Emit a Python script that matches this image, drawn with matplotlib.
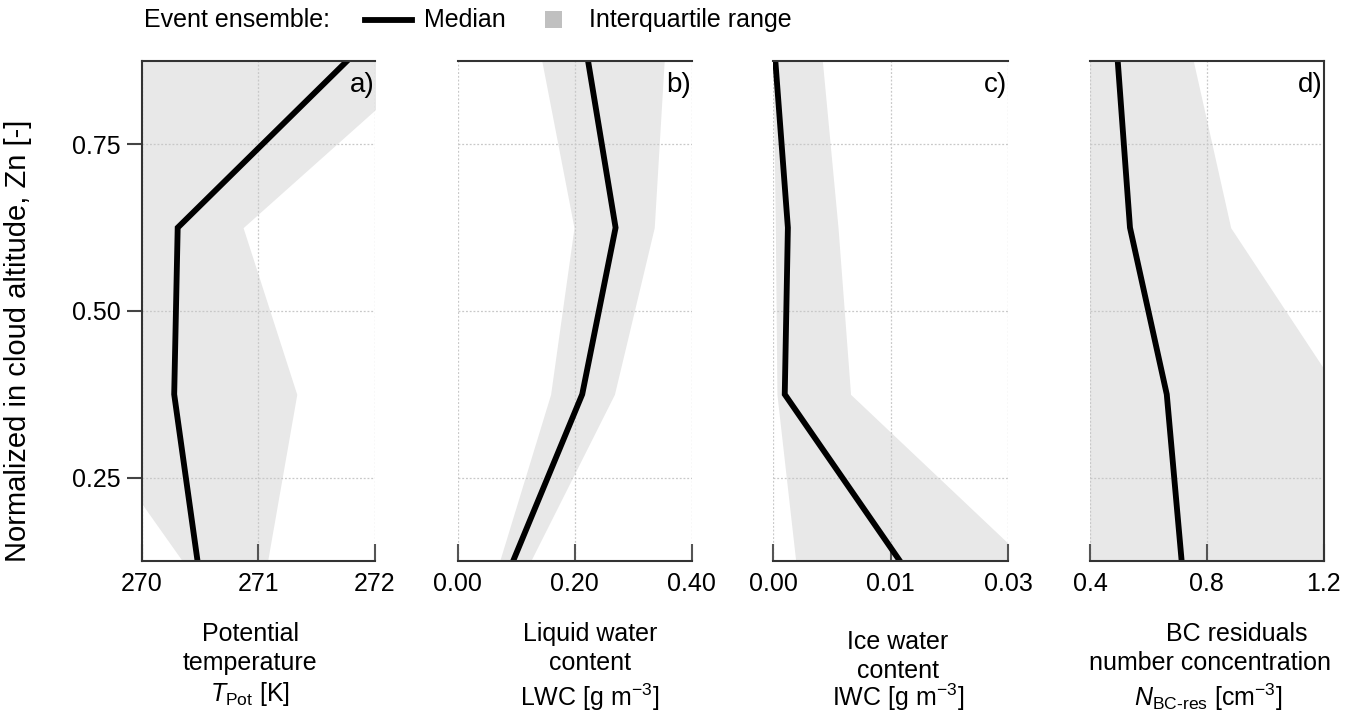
import matplotlib
matplotlib.use("Agg")
import matplotlib.pyplot as plt
from matplotlib.lines import Line2D
from matplotlib.patches import Rectangle

plt.rcParams['font.family'] = ['Liberation Sans', 'DejaVu Sans']
plt.rcParams['mathtext.fontset'] = 'custom'
plt.rcParams['mathtext.rm'] = 'Liberation Sans'
plt.rcParams['mathtext.it'] = 'Liberation Sans:italic'
plt.rcParams['mathtext.bf'] = 'Liberation Sans:bold'

# ---- data ----
zn = [0.125, 0.375, 0.625, 0.875]

tpot_median = [270.48, 270.28, 270.31, 271.76]
tpot_q25 = [270.35, 269.34, 269.50, 269.70]
tpot_q75 = [271.08, 271.33, 270.87, 272.47]

lwc_median = [0.095, 0.213, 0.270, 0.223]
lwc_q25 = [0.072, 0.159, 0.199, 0.144]
lwc_q75 = [0.125, 0.268, 0.336, 0.353]

iwc_median = [0.0162, 0.0015, 0.0019, 0.0003]
iwc_q25 = [0.0029, 0.0005, 0.0003, 0.0]
iwc_q75 = [0.0324, 0.0099, 0.0083, 0.0063]

bc_median = [0.714, 0.663, 0.537, 0.495]
bc_q25 = [0.30, 0.32, 0.35, 0.38]
bc_q75 = [1.45, 1.259, 0.882, 0.754]

xlims = [(270, 272), (0.0, 0.4), (0.0, 0.03), (0.4, 1.2)]
xticks = [[270, 271, 272], [0.0, 0.2, 0.4], [0.0, 0.015, 0.03], [0.4, 0.8, 1.2]]
xticklabels = [["270", "271", "272"], ["0.00", "0.20", "0.40"],
               ["0.00", "0.01", "0.03"], ["0.4", "0.8", "1.2"]]
yticks = [0.25, 0.50, 0.75]
yticklabels = ["0.25", "0.50", "0.75"]
panel_letters = ["a)", "b)", "c)", "d)"]

medians = [tpot_median, lwc_median, iwc_median, bc_median]
q25s = [tpot_q25, lwc_q25, iwc_q25, bc_q25]
q75s = [tpot_q75, lwc_q75, iwc_q75, bc_q75]

W, H = 1359, 718
fig = plt.figure(figsize=(W / 100, H / 100), dpi=100)

ax_px = [(141.5, 375.0), (457.5, 691.7), (773.0, 1008.0), (1090.0, 1323.5)]
top_px, bot_px = 61, 561

FS = 18
spine_col = '#333333'
fill_col = '#e8e8e8'

for i in range(4):
    x0, x1 = ax_px[i]
    ax = fig.add_axes([x0 / W, 1 - bot_px / H, (x1 - x0) / W, (bot_px - top_px) / H])
    ax.fill_betweenx(zn, q25s[i], q75s[i], color=fill_col, lw=0, zorder=1)
    ax.plot(medians[i], zn, color='black', lw=4.2, solid_joinstyle='miter', zorder=3)
    ax.set_xlim(*xlims[i])
    ax.set_ylim(0.125, 0.875)
    ax.set_xticks(xticks[i])
    ax.set_xticklabels(xticklabels[i])
    ax.set_yticks(yticks)
    ax.grid(True, color='#c8c8c8', linestyle=(0, (1.5, 1.5)), lw=0.9, zorder=2)
    ax.set_axisbelow(False)
    for sp in ax.spines.values():
        sp.set_color(spine_col)
        sp.set_linewidth(1.5)
        sp.set_zorder(4)
    ax.spines['left'].set_visible(i == 0)
    ax.spines['right'].set_visible(i == 3)
    ax.tick_params(axis='x', direction='in', length=12, width=1.5, color='#555555',
                   labelsize=FS, pad=8, top=False)
    if i == 0:
        ax.set_yticklabels(yticklabels)
        ax.tick_params(axis='y', direction='out', length=11, width=1.5, color='#444444',
                       labelsize=FS, pad=4)
    else:
        ax.tick_params(axis='y', length=0, labelleft=False)
    ax.text(0.998, 0.978, panel_letters[i], transform=ax.transAxes, ha='right',
            va='top', fontsize=20, zorder=5)

# y label
fig.text(18 / W, 1 - 341 / H, "Normalized in cloud altitude, Zn [-]", rotation=90,
         ha='center', va='center', fontsize=21)

# x labels (three lines per panel)
def ftxt(x, y, s, va='center'):
    fig.text(x / W, 1 - y / H, s, ha='center', va=va, fontsize=FS)

ftxt(250, 634, "Potential")
ftxt(250, 663, "temperature")
ftxt(250, 701, r"$T_{\mathrm{Pot}}$ [K]", va='baseline')

ftxt(590, 634, "Liquid water")
ftxt(590, 663, "content")
ftxt(590, 706, r"LWC [g m$^{-3}$]", va='baseline')

ftxt(898, 642, "Ice water")
ftxt(898, 671, "content")
ftxt(898, 706, r"IWC [g m$^{-3}$]", va='baseline')

ftxt(1237, 634, "BC residuals")
ftxt(1210, 663, "number concentration")
ftxt(1208, 706, r"$N_{\mathrm{BC\text{-}res}}$ [cm$^{-3}$]", va='baseline')

# legend (drawn manually in figure coordinates)
ly = 1 - 20 / H
fig.text(144 / W, ly, "Event ensemble:", ha='left', va='center', fontsize=FS)
fig.add_artist(Line2D([365 / W, 412 / W], [ly, ly], color='black', lw=4.2,
                      transform=fig.transFigure))
fig.text(424 / W, ly, "Median", ha='left', va='center', fontsize=FS)
fig.add_artist(Rectangle((545 / W, 1 - 28 / H), 17 / W, 17 / H, color='#c0c0c0',
                         transform=fig.transFigure, lw=0))
fig.text(589 / W, ly, "Interquartile range", ha='left', va='center', fontsize=FS)

fig.savefig("out.png", dpi=100)
